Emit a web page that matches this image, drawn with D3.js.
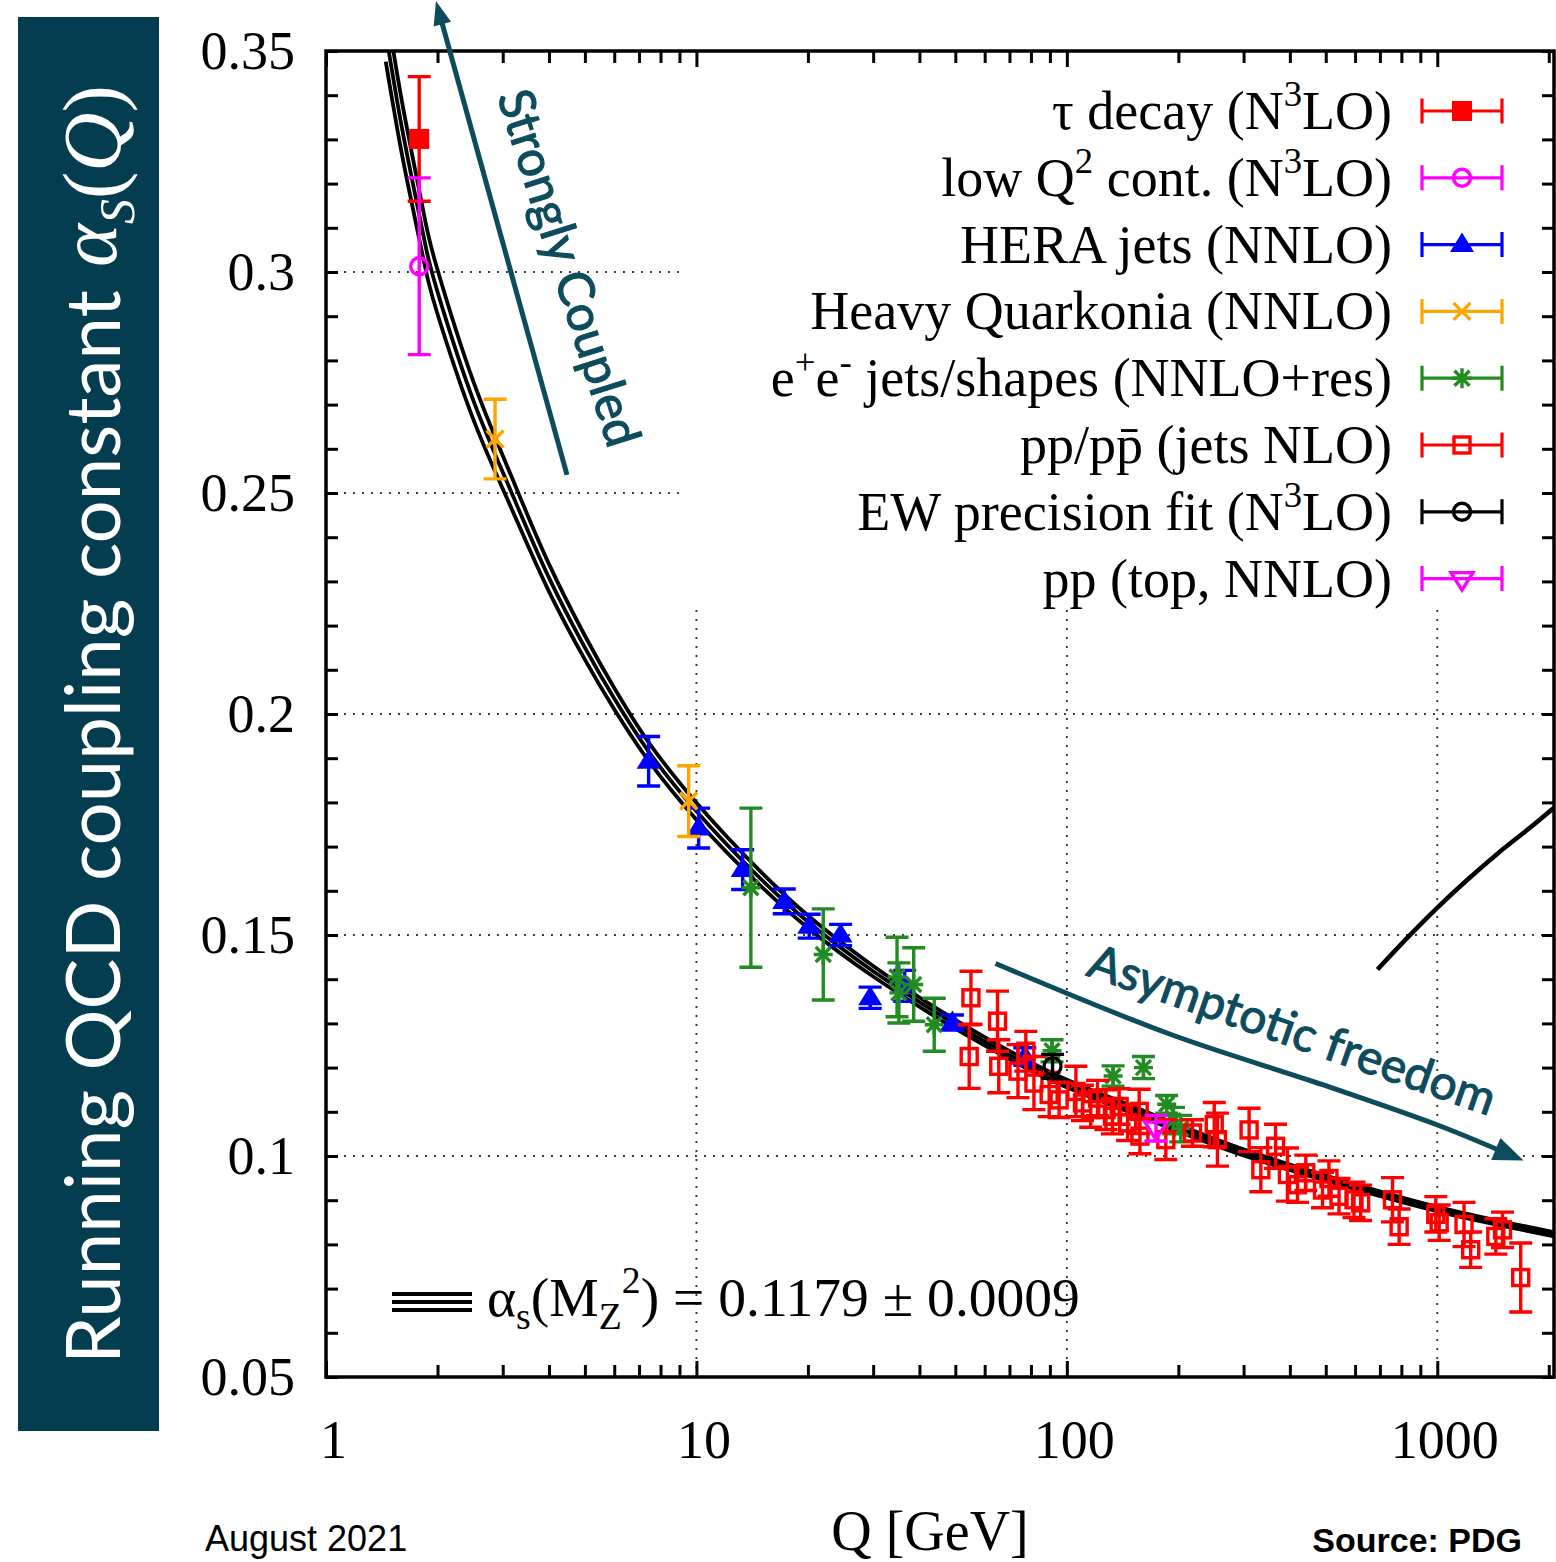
<!DOCTYPE html>
<html>
<head>
<meta charset="utf-8">
<script src="https://cdn.jsdelivr.net/npm/d3@7/dist/d3.min.js"></script>
<style>
  html, body { margin: 0; padding: 0; background: #fff; }
  svg { display: block; }
</style>
</head>
<body>
<svg id="chart" width="1556" height="1562" xmlns="http://www.w3.org/2000/svg"></svg>
<script>
// ------------------------------------------------------------------
// DATA
// ------------------------------------------------------------------
const xDomain = [1, 2066];
const yDomain = [0.05, 0.35];
const xTickValues = [1, 10, 100, 1000];
const xTickLabels = ["1", "10", "100", "1000"];
const yTickValues = [0.05, 0.1, 0.15, 0.2, 0.25, 0.3, 0.35];
const yTickLabels = ["0.05", "0.1", "0.15", "0.2", "0.25", "0.3", "0.35"];
const gridX = [10, 100, 1000];
const gridY = [0.1, 0.15, 0.2, 0.25, 0.3];

// running coupling band: central value and half width
const curveQ     = [1.45, 1.489, 1.6, 1.78, 1.893, 2.0, 2.5, 3.172, 4.0, 5.0, 6.0, 7.43, 10, 15, 20, 30, 50, 91.19, 150, 200, 300, 500, 1000, 2066];
const curveAlpha = [0.3542, 0.3482, 0.3330, 0.3135, 0.3028, 0.2955, 0.2709, 0.250, 0.2308, 0.2150, 0.2035, 0.1915, 0.178, 0.1625, 0.153, 0.1418, 0.1298, 0.1179, 0.1105, 0.1063, 0.1008, 0.0950, 0.0880, 0.0823];
const curveErr   = [0.0066, 0.0064, 0.0060, 0.0055, 0.0052, 0.0050, 0.0043, 0.0036, 0.0031, 0.0027, 0.0024, 0.0021, 0.0019, 0.0016, 0.0014, 0.0012, 0.0010, 0.0009, 0.0008, 0.00075, 0.0007, 0.0006, 0.00052, 0.00046];

// extra curve at upper right
const rightCurveQ     = [689.7, 831, 1001, 1206, 1454, 1751, 2066];
const rightCurveAlpha = [0.1422, 0.1494, 0.1562, 0.1625, 0.1684, 0.1738, 0.1788];

const seriesLabels = [
  "τ decay (N^{3}LO)",
  "low Q^{2} cont. (N^{3}LO)",
  "HERA jets (NNLO)",
  "Heavy Quarkonia (NNLO)",
  "e^{+}e^{-} jets/shapes (NNLO+res)",
  "pp/pp\u0304 (jets NLO)",
  "EW precision fit (N^{3}LO)",
  "pp (top, NNLO)"
];
const seriesColors  = ["#ff0000", "#ff00ff", "#0000ff", "#ffa500", "#228b22", "#ff0000", "#000000", "#ff00ff"];
const seriesMarkers = ["squareFilled", "circleOpen", "triangleFilled", "cross", "asterisk", "squareOpen", "circleOpen", "triangleDownOpen"];

// [Q (GeV), alpha_s, error]
const tauData   = [[1.785, 0.3301, 0.0141]];
const lowQ2Data = [[1.785, 0.3013, 0.0200]];
const heraData  = [[7.43, 0.1893, 0.0056], [10.14, 0.1742, 0.0045], [13.33, 0.1648, 0.0045], [17.26, 0.1576, 0.0028],
                   [20.16, 0.1520, 0.0027], [24.5, 0.1500, 0.0024], [29.45, 0.1358, 0.0024], [36.5, 0.1385, 0.0035],
                   [49.1, 0.1302, 0.0017], [77.0, 0.1225, 0.0020]];
const heavyQData = [[2.86, 0.2622, 0.0090], [9.53, 0.1803, 0.0080]];
const eeData = [[14.03, 0.1607, 0.0180], [22.0, 0.1456, 0.0103], [34.8, 0.1405, 0.0090], [35.2, 0.1369, 0.0068],
                [38.6, 0.1388, 0.0083], [43.85, 0.1297, 0.0060], [91.2, 0.1238, 0.0025], [133.3, 0.1181, 0.0023],
                [161, 0.1200, 0.0025], [186, 0.1117, 0.0020], [194, 0.1080, 0.0030], [203, 0.1062, 0.0030]];
const ppData = [
  [55.1, 0.1358, 0.0060], [54.5, 0.1225, 0.0072], [65.0, 0.1305, 0.0068], [65.5, 0.1203, 0.0060],
  [77.5, 0.1237, 0.0045], [73.8, 0.1192, 0.0060], [81.5, 0.1165, 0.0060], [89.6, 0.1139, 0.0050],
  [95.3, 0.1127, 0.0040], [105.8, 0.1146, 0.0057], [110.2, 0.1120, 0.0040], [116.0, 0.1105, 0.0040],
  [121.0, 0.1131, 0.0040], [127.5, 0.1105, 0.0045], [132.8, 0.1090, 0.0040], [138.4, 0.1112, 0.0040],
  [145.9, 0.1075, 0.0040], [156.8, 0.1101, 0.0050], [157.5, 0.1045, 0.0040], [185.0, 0.1037, 0.0045],
  [218.4, 0.1052, 0.0030], [250.0, 0.1071, 0.0050], [255.0, 0.1037, 0.0060], [310.5, 0.1059, 0.0049],
  [334.0, 0.0969, 0.0050], [366.0, 0.1022, 0.0050], [394.0, 0.0958, 0.0060], [419.5, 0.0935, 0.0040],
  [441.7, 0.0962, 0.0040], [490.0, 0.0923, 0.0040], [510.0, 0.0949, 0.0040], [543.0, 0.0909, 0.0040],
  [596.0, 0.0901, 0.0040], [621.0, 0.0894, 0.0040], [757.0, 0.0901, 0.0050], [789.0, 0.0840, 0.0040],
  [991.0, 0.0868, 0.0040], [1012.0, 0.0849, 0.0040], [1181.0, 0.0845, 0.0050], [1231.0, 0.0788, 0.0040],
  [1439.0, 0.0818, 0.0040], [1500.0, 0.0833, 0.0040], [1680.0, 0.0725, 0.0078]
];
const ewData  = [[91.5, 0.1203, 0.0027]];
const topData = [[174, 0.1063, 0.0029]];
const seriesData = [tauData, lowQ2Data, heraData, heavyQData, eeData, ppData, ewData, topData];

const alphaMZ = "0.1179";
const alphaMZErr = "0.0009";

// annotation anchors in data space [Q, alpha]
const strongArrow = [[4.473, 0.2541], [1.981, 0.3613]];
const strongText  = [[2.894, 0.3398], [6.114, 0.2535]];
const asymArrow   = [[64.17, 0.14356], [189.4, 0.1276], [490.5, 0.11613], [1001.3, 0.10701], [1710, 0.0990]];
const asymText    = [[111.9, 0.14095], [1379, 0.10905]];

// ------------------------------------------------------------------
// SET-UP
// ------------------------------------------------------------------
const serif = "'Liberation Serif','Times New Roman',Times,serif";
const sans  = "'Liberation Sans',Arial,Helvetica,sans-serif";
const geo   = "Lato,'Open Sans',sans-serif";
const teal  = "#0d4b5d";

const svg = d3.select("#chart");
svg.append("rect").attr("width", 1556).attr("height", 1562).attr("fill", "#fff");

const M = { left: 326, right: 1554, top: 51, bottom: 1377 };
const KEY = { left: 682, bottom: 610 };   // area kept clear for the key

const x = d3.scaleLog().domain(xDomain).range([M.left, M.right]);
const y = d3.scaleLinear().domain(yDomain).range([M.bottom, M.top]);

// ------------------------------------------------------------------
// GRID
// ------------------------------------------------------------------
const gridG = svg.append("g").attr("stroke", "#333").attr("stroke-width", 1.9).attr("stroke-dasharray", "1.9,7.1");
gridY.forEach(v => gridG.append("line")
  .attr("x1", M.left).attr("x2", y(v) < KEY.bottom ? KEY.left : M.right)
  .attr("y1", y(v)).attr("y2", y(v)));
gridX.forEach(v => gridG.append("line")
  .attr("x1", x(v)).attr("x2", x(v)).attr("y1", KEY.bottom).attr("y2", M.bottom));

// ------------------------------------------------------------------
// CURVES
// ------------------------------------------------------------------
svg.append("clipPath").attr("id", "plotclip").append("rect")
  .attr("x", M.left).attr("y", M.top).attr("width", M.right - M.left).attr("height", M.bottom - M.top);
const curveG = svg.append("g").attr("clip-path", "url(#plotclip)");
const line = d3.line().x(d => x(d[0])).y(d => y(d[1])).curve(d3.curveCatmullRom.alpha(0.5));
[-1, 0, 1].forEach(k => {
  curveG.append("path")
    .attr("d", line(curveQ.map((q, i) => [q, curveAlpha[i] + k * curveErr[i]])))
    .attr("fill", "none").attr("stroke", "#000").attr("stroke-width", 3.8);
});
curveG.append("path")
  .attr("d", line(rightCurveQ.map((q, i) => [q, rightCurveAlpha[i]])))
  .attr("fill", "none").attr("stroke", "#000").attr("stroke-width", 4.5);

// ------------------------------------------------------------------
// MARKERS
// ------------------------------------------------------------------
const SW = 3.4;
function drawMarker(g, type, color, cx, cy) {
  switch (type) {
    case "squareFilled":
      g.append("rect").attr("x", cx - 10).attr("y", cy - 10).attr("width", 20).attr("height", 20).attr("fill", color);
      break;
    case "squareOpen":
      g.append("rect").attr("x", cx - 8).attr("y", cy - 8).attr("width", 16).attr("height", 16)
        .attr("fill", "none").attr("stroke", color).attr("stroke-width", SW);
      break;
    case "circleOpen":
      g.append("circle").attr("cx", cx).attr("cy", cy).attr("r", 8.5)
        .attr("fill", "none").attr("stroke", color).attr("stroke-width", SW);
      break;
    case "triangleFilled":
      g.append("path").attr("d", `M${cx - 12},${cy + 7.5}L${cx + 12},${cy + 7.5}L${cx},${cy - 12}Z`).attr("fill", color);
      break;
    case "triangleDownOpen":
      g.append("path").attr("d", `M${cx - 11},${cy - 6}L${cx + 11},${cy - 6}L${cx},${cy + 11.5}Z`)
        .attr("fill", "none").attr("stroke", color).attr("stroke-width", SW).attr("stroke-linejoin", "miter");
      break;
    case "cross":
      g.append("path").attr("d", `M${cx - 8.5},${cy - 8.5}L${cx + 8.5},${cy + 8.5}M${cx - 8.5},${cy + 8.5}L${cx + 8.5},${cy - 8.5}`)
        .attr("stroke", color).attr("stroke-width", SW).attr("fill", "none");
      break;
    case "asterisk":
      g.append("path").attr("d",
        `M${cx - 7.5},${cy - 7.5}L${cx + 7.5},${cy + 7.5}M${cx - 7.5},${cy + 7.5}L${cx + 7.5},${cy - 7.5}M${cx},${cy - 10}L${cx},${cy + 10}M${cx - 9.5},${cy}L${cx + 9.5},${cy}`)
        .attr("stroke", color).attr("stroke-width", SW).attr("fill", "none");
      break;
  }
}

const ptsG = svg.append("g");
seriesData.forEach((data, si) => {
  const col = seriesColors[si], mk = seriesMarkers[si];
  data.forEach(([q, a, e]) => {
    const g = ptsG.append("g");
    const cx = x(q), cy = y(a), yt = y(a + e), yb = y(a - e);
    g.append("path")
      .attr("d", `M${cx},${yt}L${cx},${yb}M${cx - 11.5},${yt}L${cx + 11.5},${yt}M${cx - 11.5},${yb}L${cx + 11.5},${yb}`)
      .attr("stroke", col).attr("stroke-width", SW).attr("fill", "none");
    drawMarker(g, mk, col, cx, cy);
  });
});

// ------------------------------------------------------------------
// FRAME + AXES
// ------------------------------------------------------------------
svg.append("rect").attr("x", M.left).attr("y", M.top).attr("width", M.right - M.left).attr("height", M.bottom - M.top)
  .attr("fill", "none").attr("stroke", "#000").attr("stroke-width", 3.5);

const yAll = d3.range(5, 36).map(k => k / 100);
const xMinor = [];
[1, 10, 100, 1000].forEach(dec => { for (let k = 2; k <= 9; k++) { const v = dec * k; if (v <= xDomain[1]) xMinor.push(v); } });

function styleAxis(g, fontSize) {
  g.select(".domain").remove();
  g.selectAll(".tick line").attr("stroke", "#000").attr("stroke-width", 3);
  g.selectAll(".tick text").attr("font-family", serif).attr("font-size", fontSize).attr("fill", "#000");
}
const yLabel = d => { const i = yTickValues.findIndex(v => Math.abs(v - d) < 1e-9); return i >= 0 ? yTickLabels[i] : ""; };
const xLabel = d => { const i = xTickValues.findIndex(v => Math.abs(v - d) < 1e-9); return i >= 0 ? xTickLabels[i] : ""; };

svg.append("g").attr("transform", `translate(${M.left},0)`)
  .call(d3.axisLeft(y).tickValues(yAll).tickSizeInner(-12).tickSizeOuter(0).tickPadding(31).tickFormat(yLabel))
  .call(g => styleAxis(g, 54));
svg.append("g").attr("transform", `translate(${M.right},0)`)
  .call(d3.axisRight(y).tickValues(yAll).tickSizeInner(-12).tickSizeOuter(0).tickFormat(() => ""))
  .call(g => styleAxis(g, 54));
svg.append("g").attr("transform", `translate(0,${M.bottom})`)
  .call(d3.axisBottom(x).tickValues(xTickValues).tickSizeInner(-16).tickSizeOuter(0).tickPadding(43).tickFormat(xLabel))
  .call(g => { styleAxis(g, 54); g.selectAll(".tick text").attr("x", 7); });
svg.append("g").attr("transform", `translate(0,${M.bottom})`)
  .call(d3.axisBottom(x).tickValues(xMinor).tickSizeInner(-12).tickSizeOuter(0).tickFormat(() => ""))
  .call(g => styleAxis(g, 54));
svg.append("g").attr("transform", `translate(0,${M.top})`)
  .call(d3.axisTop(x).tickValues(xTickValues).tickSizeInner(-16).tickSizeOuter(0).tickFormat(() => ""))
  .call(g => styleAxis(g, 54));
svg.append("g").attr("transform", `translate(0,${M.top})`)
  .call(d3.axisTop(x).tickValues(xMinor).tickSizeInner(-12).tickSizeOuter(0).tickFormat(() => ""))
  .call(g => styleAxis(g, 54));

// ------------------------------------------------------------------
// RICH TEXT HELPER (^{..} superscript, _{..} subscript)
// ------------------------------------------------------------------
function addRich(t, str, F) {
  const parts = str.split(/(\^\{[^}]*\}|_\{[^}]*\})/).filter(s => s.length);
  let shift = 0;
  parts.forEach(p => {
    let size = F, txt = p, target = 0;
    if (p.startsWith("^{")) { txt = p.slice(2, -1); size = F * 0.68; target = -F * 0.42; }
    else if (p.startsWith("_{")) { txt = p.slice(2, -1); size = F * 0.68; target = F * 0.24; }
    t.append("tspan").attr("font-size", size).attr("dy", target - shift).text(txt);
    shift = target;
  });
}

// ------------------------------------------------------------------
// KEY
// ------------------------------------------------------------------
const keyG = svg.append("g");
seriesLabels.forEach((lab, i) => {
  const cy = 111 + i * 66.8;
  const t = keyG.append("text").attr("x", 1392).attr("y", cy + 18).attr("text-anchor", "end")
    .attr("font-family", serif).attr("font-size", 54).attr("fill", "#000");
  addRich(t, lab, 54);
  const col = seriesColors[i];
  keyG.append("path")
    .attr("d", `M1422,${cy}L1502,${cy}M1422,${cy - 12.5}L1422,${cy + 12.5}M1502,${cy - 12.5}L1502,${cy + 12.5}`)
    .attr("stroke", col).attr("stroke-width", 3.2).attr("fill", "none");
  drawMarker(keyG.append("g"), seriesMarkers[i], col, 1462, cy);
});

// ------------------------------------------------------------------
// alpha_s(MZ) label with triple-line sample
// ------------------------------------------------------------------
[-8, 0, 8].forEach(d => svg.append("line").attr("x1", 392).attr("x2", 472).attr("y1", 1302 + d).attr("y2", 1302 + d)
  .attr("stroke", "#000").attr("stroke-width", 4));
const fT = svg.append("text").attr("x", 487).attr("y", 1316).attr("font-family", serif).attr("font-size", 56).attr("fill", "#000");
addRich(fT, `α_{s}(M_{Z}^{2}) = ${alphaMZ} ± ${alphaMZErr}`, 56);
{
  const L = fT.node().getComputedTextLength();
  const target = 1080 - 487;
  fT.attr("font-size", null);
  fT.selectAll("tspan").each(function () {
    const s = d3.select(this);
    s.attr("font-size", +s.attr("font-size") * target / L).attr("dy", +s.attr("dy") * target / L);
  });
}

// ------------------------------------------------------------------
// AXIS TITLES & FOOTERS
// ------------------------------------------------------------------
svg.append("text").attr("x", 930).attr("y", 1550).attr("text-anchor", "middle")
  .attr("font-family", serif).attr("font-size", 56).text("Q [GeV]");
svg.append("text").attr("x", 205).attr("y", 1551)
  .attr("font-family", sans).attr("font-size", 36).text("August 2021");
svg.append("text").attr("x", 1522).attr("y", 1552).attr("text-anchor", "end")
  .attr("font-family", sans).attr("font-weight", "bold").attr("font-size", 34).text("Source: PDG");

// y title box
svg.append("rect").attr("x", 18).attr("y", 17).attr("width", 141).attr("height", 1414).attr("fill", "#033d4f");
const tg = svg.append("g").attr("transform", "translate(120,1364) rotate(-90)");
const t1 = tg.append("text").attr("x", 0).attr("y", 0).attr("font-family", geo).attr("font-size", 80)
  .attr("fill", "#fff").text("Running QCD coupling constant");
{
  const L = t1.node().getComputedTextLength();
  t1.attr("font-size", 80 * 1074 / L);
}
const t2 = tg.append("text").attr("x", 1097).attr("y", 0).attr("font-family", serif).attr("font-size", 82).attr("fill", "#fff");
t2.append("tspan").attr("font-style", "italic").attr("dy", -4).text("α");
t2.append("tspan").attr("font-style", "italic").attr("font-size", 50).attr("dy", 18).text("S");
t2.append("tspan").attr("dy", -14).text("(");
t2.append("tspan").attr("font-style", "italic").text("Q");
t2.append("tspan").text(")");

// ------------------------------------------------------------------
// ANNOTATIONS
// ------------------------------------------------------------------
const P = d => [x(d[0]), y(d[1])];
function arrowHead(tip, from, len, half) {
  const dx = tip[0] - from[0], dy = tip[1] - from[1], n = Math.hypot(dx, dy);
  const ux = dx / n, uy = dy / n;
  const bx = tip[0] - ux * len, by = tip[1] - uy * len;
  return {
    d: `M${tip[0]},${tip[1]}L${bx - uy * half},${by + ux * half}L${bx + uy * half},${by - ux * half}Z`,
    base: [tip[0] - ux * len * 0.7, tip[1] - uy * len * 0.7]
  };
}
// Strongly coupled
{
  const a = P(strongArrow[0]), b = P(strongArrow[1]);
  const h = arrowHead(b, a, 24, 9);
  svg.append("path").attr("d", `M${a[0]},${a[1]}L${h.base[0]},${h.base[1]}`).attr("stroke", teal).attr("stroke-width", 5).attr("fill", "none");
  svg.append("path").attr("d", h.d).attr("fill", teal);

  const s = P(strongText[0]), e = P(strongText[1]);
  svg.append("path").attr("id", "strongPath").attr("d", `M${s[0]},${s[1]}L${e[0]},${e[1]}`).attr("fill", "none");
  const st = svg.append("text").attr("font-family", geo).attr("font-size", 50).attr("fill", teal)
    .attr("stroke", teal).attr("stroke-width", 1.1);
  st.append("textPath").attr("href", "#strongPath").text("Strongly Coupled");
  const L = st.node().getComputedTextLength();
  st.attr("font-size", 50 * 371 / L);
}
// Asymptotic freedom
{
  const pts = asymArrow.map(P);
  const tip = pts[pts.length - 1];
  const h = arrowHead(tip, pts[pts.length - 2], 30, 12);
  const linePts = pts.slice(0, -1).concat([h.base]);
  svg.append("path").attr("d", d3.line().curve(d3.curveCatmullRom)(linePts)).attr("stroke", teal).attr("stroke-width", 5).attr("fill", "none");
  svg.append("path").attr("d", h.d).attr("fill", teal);

  const s = P(asymText[0]), e = P(asymText[1]);
  const ex = e[0] + (e[0] - s[0]) * 0.2, ey = e[1] + (e[1] - s[1]) * 0.2;
  svg.append("path").attr("id", "asymPath").attr("d", `M${s[0]},${s[1]}L${ex},${ey}`).attr("fill", "none");
  const at = svg.append("text").attr("font-family", geo).attr("font-size", 50).attr("fill", teal)
    .attr("stroke", teal).attr("stroke-width", 1.1);
  at.append("textPath").attr("href", "#asymPath").text("Asymptotic freedom");
  const L = at.node().getComputedTextLength();
  at.attr("font-size", 50 * 428 / L);
}
</script>
</body>
</html>
